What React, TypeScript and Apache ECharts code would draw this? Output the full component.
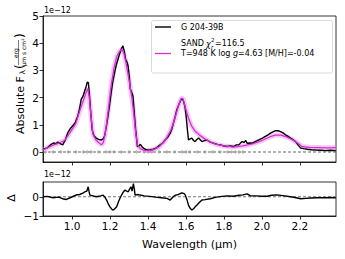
import React, { useEffect, useRef } from "react";
import * as echarts from "echarts";

const obsWl = [0.847,0.87,0.89,0.905,0.915,0.925,0.94,0.951,0.965,0.977,0.99,1.004,1.018,1.03,1.04,1.048,1.058,1.066,1.074,1.08,1.086,1.092,1.099,1.106,1.115,1.127,1.14,1.154,1.164,1.171,1.18,1.189,1.198,1.206,1.215,1.224,1.233,1.242,1.25,1.259,1.268,1.275,1.282,1.29,1.295,1.301,1.307,1.314,1.321,1.328,1.335,1.344,1.352,1.36,1.37,1.38,1.393,1.41,1.428,1.445,1.464,1.478,1.49,1.505,1.517,1.526,1.534,1.543,1.552,1.56,1.566,1.572,1.578,1.584,1.59,1.596,1.601,1.607,1.613,1.622,1.631,1.64,1.648,1.657,1.666,1.675,1.684,1.697,1.71,1.728,1.746,1.765,1.781,1.8,1.816,1.833,1.851,1.865,1.878,1.895,1.905,1.915,1.922,1.935,1.948,1.965,1.983,2.0,2.018,2.032,2.045,2.058,2.071,2.085,2.098,2.111,2.124,2.138,2.151,2.164,2.177,2.19,2.204,2.22,2.239,2.26,2.283,2.31,2.336,2.36,2.389];
const obsFlux = [0.10,0.15,0.28,0.33,0.30,0.36,0.30,0.26,0.45,0.70,0.85,0.96,1.10,1.31,1.60,1.93,2.05,2.23,2.40,2.57,2.55,2.05,1.40,0.81,0.60,0.51,0.46,0.44,0.48,0.57,0.90,1.31,1.75,2.17,2.60,2.91,3.20,3.41,3.60,3.78,3.90,3.70,3.41,3.30,3.16,2.80,2.30,2.20,2.05,1.40,0.81,0.20,0.22,0.28,0.18,0.12,0.07,0.08,0.10,0.15,0.26,0.33,0.44,0.55,0.69,0.85,1.06,1.30,1.56,1.70,1.80,1.90,1.96,1.92,1.80,1.60,1.31,0.85,0.44,0.48,0.51,0.42,0.38,0.46,0.51,0.45,0.38,0.42,0.44,0.36,0.32,0.28,0.26,0.22,0.20,0.22,0.20,0.26,0.26,0.38,0.35,0.42,0.32,0.33,0.32,0.38,0.44,0.50,0.57,0.63,0.69,0.74,0.78,0.78,0.75,0.70,0.63,0.57,0.51,0.45,0.38,0.26,0.14,0.12,0.10,0.08,0.07,0.06,0.05,0.06,0.05];

const modelWl = [0.847,0.87,0.9,0.93,0.96,0.99,1.02,1.04,1.06,1.075,1.083,1.09,1.1,1.11,1.125,1.14,1.155,1.165,1.175,1.19,1.205,1.22,1.235,1.25,1.262,1.272,1.285,1.3,1.315,1.325,1.335,1.345,1.36,1.38,1.4,1.43,1.46,1.49,1.52,1.54,1.56,1.575,1.585,1.6,1.615,1.63,1.65,1.675,1.7,1.73,1.76,1.8,1.85,1.9,1.95,2.0,2.04,2.07,2.1,2.13,2.16,2.19,2.21,2.25,2.3,2.35,2.389];
const modelFlux = [0.08,0.15,0.25,0.32,0.42,0.72,1.05,1.50,1.90,2.20,2.33,2.05,1.30,0.65,0.45,0.35,0.26,0.35,0.70,1.50,2.40,3.05,3.50,3.70,3.78,3.65,3.25,2.65,2.00,1.40,0.70,0.25,0.12,0.06,0.05,0.08,0.20,0.42,0.80,1.20,1.70,1.98,1.95,1.55,1.20,0.95,0.75,0.60,0.48,0.36,0.28,0.22,0.18,0.22,0.30,0.42,0.55,0.62,0.62,0.55,0.45,0.32,0.20,0.17,0.16,0.15,0.16];

const resWl = [0.847,0.87,0.9,0.93,0.95,0.97,0.99,1.02,1.04,1.06,1.067,1.078,1.085,1.09,1.094,1.11,1.129,1.15,1.164,1.175,1.182,1.192,1.2,1.207,1.214,1.222,1.235,1.245,1.256,1.268,1.279,1.288,1.296,1.303,1.31,1.316,1.323,1.328,1.332,1.345,1.358,1.38,1.41,1.44,1.47,1.5,1.517,1.53,1.545,1.56,1.578,1.588,1.596,1.605,1.613,1.622,1.631,1.64,1.65,1.658,1.67,1.684,1.7,1.728,1.76,1.79,1.816,1.85,1.88,1.9,1.922,1.94,1.97,2.0,2.028,2.05,2.08,2.11,2.151,2.18,2.204,2.23,2.26,2.29,2.33,2.36,2.389];
const resDelta = [0.0,0.02,-0.05,-0.02,-0.10,-0.14,-0.05,0.09,0.12,0.20,0.26,0.30,0.52,0.25,0.09,0.05,0.0,0.05,0.09,-0.05,-0.17,-0.40,-0.52,-0.62,-0.69,-0.65,-0.52,-0.25,0.0,0.22,0.35,0.30,0.26,0.40,0.52,0.30,0.69,0.40,0.09,0.12,0.09,0.05,0.02,-0.02,-0.05,-0.08,-0.17,-0.02,0.09,0.12,0.20,0.18,0.10,-0.15,-0.43,-0.60,-0.69,-0.62,-0.50,-0.43,-0.30,-0.17,-0.15,-0.10,-0.02,0.02,0.05,0.03,0.08,0.10,0.15,0.05,0.05,0.03,0.03,0.08,0.10,0.06,0.0,-0.05,-0.10,-0.08,-0.06,-0.05,-0.05,-0.04,-0.05];

const errWl = [0.86,0.9,0.94,0.98,1.02,1.06,1.08,1.1,1.14,1.18,1.2,1.22,1.26,1.3,1.34,1.38,1.4,1.42,1.46,1.5,1.54,1.58,1.6,1.62,1.66,1.7,1.74,1.78,1.82,1.84,1.86,1.88,1.9];

const xTicks = [1.0, 1.2, 1.4, 1.6, 1.8, 2.0, 2.2];
const yTicksTop = [0, 1, 2, 3, 4, 5];
const yTicksBottom = [-1, 0];

const legendName = "G 204-39B";
const modelLabel = "T=948 K log g=4.63 [M/H]=-0.04";

const zip = (a: number[], b: number[]) => a.map((v, i) => [v, b[i]]);

const FONT = "DejaVu Sans";
const XMIN = 0.847;
const XMAX = 2.39;
const MAG = "#d92cd9";
const LF = 8;

export default function App() {
  const ref = useRef<HTMLDivElement>(null);
  useEffect(() => {
    if (!ref.current) return;
    const chart = echarts.init(ref.current, null, { renderer: "svg" });
    const xAxisBase = (gridIndex: number, labels: boolean) => ({
      type: "value",
      gridIndex,
      min: XMIN,
      max: XMAX,
      axisLine: { show: true, onZero: false, lineStyle: { color: "#000", width: 0.8 } },
      axisTick: { show: true, customValues: xTicks, length: 3.5, lineStyle: { color: "#000", width: 0.8 } },
      axisLabel: {
        show: labels,
        customValues: xTicks,
        formatter: (v: number) => v.toFixed(1),
        color: "#000",
        fontFamily: FONT,
        fontSize: 10.5,
        margin: 4,
      },
      splitLine: { show: false },
    });
    const yAxisBase = (gridIndex: number, min: number, max: number, ticks: number[]) => ({
      type: "value",
      gridIndex,
      min,
      max,
      axisLine: { show: true, onZero: false, lineStyle: { color: "#000", width: 0.8 } },
      axisTick: { show: true, customValues: ticks, length: 3.5, lineStyle: { color: "#000", width: 0.8 } },
      axisLabel: {
        show: true,
        customValues: ticks,
        formatter: (v: number) => (v < 0 ? "\u2212" + Math.abs(v) : String(v)),
        color: "#000",
        fontFamily: FONT,
        fontSize: 10.5,
        margin: 4,
      },
      splitLine: { show: false },
    });

    const option: any = {
      animation: false,
      backgroundColor: "#fff",
      grid: [
        { left: 43, top: 16, width: 293, height: 146, show: true, borderColor: "#000", borderWidth: 0.8, backgroundColor: "transparent" },
        { left: 43, top: 182, width: 293, height: 34, show: true, borderColor: "#000", borderWidth: 0.8, backgroundColor: "transparent" },
      ],
      xAxis: [xAxisBase(0, false), xAxisBase(1, true)],
      yAxis: [yAxisBase(0, -0.37, 5, yTicksTop), yAxisBase(1, -1.0, 0.77, yTicksBottom)],
      series: [
        {
          type: "line",
          xAxisIndex: 0,
          yAxisIndex: 0,
          data: [[XMIN, 0], [XMAX, 0]],
          showSymbol: false,
          lineStyle: { color: "#666", width: 1.1, type: [3, 2] },
          z: 1,
        },
        {
          type: "scatter",
          xAxisIndex: 0,
          yAxisIndex: 0,
          data: errWl.map((w) => [w, 0]),
          symbol: "circle",
          symbolSize: 2.5,
          itemStyle: { color: "#aaa", borderColor: "#888", borderWidth: 0.5 },
          z: 1,
        },
        {
          type: "line",
          xAxisIndex: 0,
          yAxisIndex: 0,
          data: zip(modelWl, modelFlux),
          showSymbol: false,
          lineStyle: { color: "rgba(232,140,232,0.45)", width: 5 },
          z: 2,
        },
        {
          type: "line",
          xAxisIndex: 0,
          yAxisIndex: 0,
          data: zip(obsWl, obsFlux),
          showSymbol: false,
          lineStyle: { color: "#000", width: 1.4 },
          z: 3,
        },
        {
          type: "line",
          xAxisIndex: 0,
          yAxisIndex: 0,
          data: zip(modelWl, modelFlux),
          showSymbol: false,
          lineStyle: { color: MAG, width: 1.3 },
          z: 4,
        },
        {
          type: "line",
          xAxisIndex: 1,
          yAxisIndex: 1,
          data: [[XMIN, 0], [XMAX, 0]],
          showSymbol: false,
          lineStyle: { color: "#777", width: 1.1, type: [3, 2] },
          z: 1,
        },
        {
          type: "line",
          xAxisIndex: 1,
          yAxisIndex: 1,
          data: zip(resWl, resDelta),
          showSymbol: false,
          lineStyle: { color: "#000", width: 1.4 },
          z: 3,
        },
      ],
      graphic: [
        { type: "text", left: 44, top: 6, style: { text: "1e\u221212", fontFamily: FONT, fontSize: 8, fill: "#000" } },
        { type: "text", left: 44, top: 170, style: { text: "1e\u221212", fontFamily: FONT, fontSize: 8, fill: "#000" } },
        {
          type: "group",
          x: 20,
          y: 134,
          rotation: Math.PI / 2,
          children: [
            { type: "text", x: 0, y: 0, style: { text: "Absolute F", fontFamily: FONT, fontSize: 11, fill: "#000", align: "left", verticalAlign: "middle" } },
            { type: "text", x: 59.5, y: 2.5, style: { text: "\u03bb", fontFamily: FONT, fontSize: 7.5, fill: "#000", align: "left", verticalAlign: "middle" } },
            { type: "text", x: 65, y: 0, style: { text: "(", fontFamily: FONT, fontSize: 12, fill: "#000", align: "left", verticalAlign: "middle" } },
            { type: "text", x: 81, y: -5, style: { text: "erg", fontFamily: FONT, fontSize: 6, fill: "#000", align: "center", verticalAlign: "middle" } },
            { type: "line", shape: { x1: 69, y1: -1.5, x2: 94, y2: -1.5 }, style: { stroke: "#000", lineWidth: 0.5 } },
            { type: "text", x: 81.5, y: 3.5, style: { text: "\u03bcm s cm\u00b2", fontFamily: FONT, fontSize: 6, fill: "#000", align: "center", verticalAlign: "middle" } },
            { type: "text", x: 96, y: 0, style: { text: ")", fontFamily: FONT, fontSize: 12, fill: "#000", align: "left", verticalAlign: "middle" } },
          ],
        },
        {
          type: "text",
          x: 11,
          y: 198,
          rotation: Math.PI / 2,
          style: { text: "\u0394", fontFamily: FONT, fontSize: 11, fill: "#000", align: "center", verticalAlign: "middle" },
        },
        {
          type: "text",
          x: 189.5,
          y: 244,
          style: { text: "Wavelength (\u03bcm)", fontFamily: FONT, fontSize: 11, fill: "#000", align: "center", verticalAlign: "middle" },
        },
        {
          type: "rect",
          shape: { x: 151.5, y: 20.5, width: 181, height: 52.5, r: 2 },
          style: { fill: "rgba(255,255,255,0.85)", stroke: "#d0d0d0", lineWidth: 0.8 },
          z: 10,
        },
        { type: "line", shape: { x1: 155, y1: 27, x2: 171, y2: 27 }, style: { stroke: "#000", lineWidth: 1.4 }, z: 11 },
        { type: "text", x: 181, y: 27, z: 11, style: { text: legendName, fontFamily: FONT, fontSize: LF, fill: "#000", verticalAlign: "middle" } },
        { type: "text", x: 181, y: 43.5, z: 11, style: { text: "SAND", fontFamily: FONT, fontSize: LF, fill: "#000", verticalAlign: "middle" } },
        { type: "text", x: 206, y: 44, z: 11, style: { text: "\u03c7", fontFamily: FONT, fontSize: LF, fontStyle: "italic", fill: "#000", verticalAlign: "middle" } },
        { type: "text", x: 211, y: 40, z: 11, style: { text: "2", fontFamily: FONT, fontSize: 5.6, fill: "#000", verticalAlign: "middle" } },
        { type: "text", x: 211, y: 46.5, z: 11, style: { text: "r", fontFamily: FONT, fontSize: 5.6, fontStyle: "italic", fill: "#000", verticalAlign: "middle" } },
        { type: "text", x: 215, y: 43.5, z: 11, style: { text: "=116.5", fontFamily: FONT, fontSize: LF, fill: "#000", verticalAlign: "middle" } },
        { type: "line", shape: { x1: 155, y1: 53.5, x2: 171, y2: 53.5 }, style: { stroke: MAG, lineWidth: 1.3 }, z: 11 },
        {
          type: "text",
          x: 181,
          y: 53.5,
          z: 11,
          style: {
            text: "{a|T=948 K log }{i|g}{a|=4.63 [M/H]=-0.04}",
            verticalAlign: "middle",
            rich: {
              a: { fontFamily: FONT, fontSize: LF, fill: "#000", color: "#000" },
              i: { fontFamily: FONT, fontSize: LF, fontStyle: "italic", fill: "#000", color: "#000" },
            },
          },
        },
      ],
    };
    chart.setOption(option);
    return () => chart.dispose();
  }, []);
  return <div ref={ref} style={{ width: 345, height: 259, position: "absolute", left: 0, top: 0 }} aria-label={modelLabel} />;
}
